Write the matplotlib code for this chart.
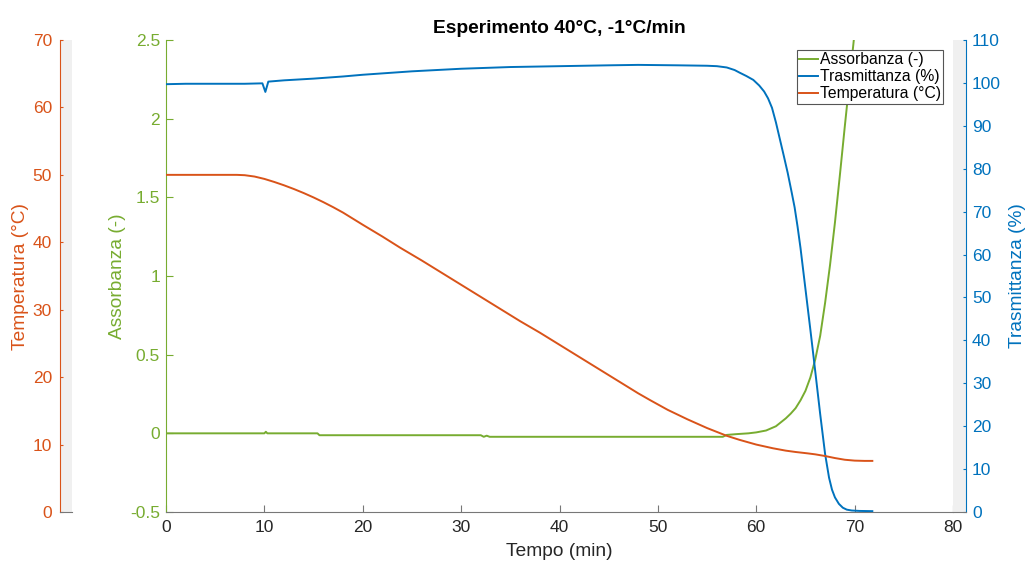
import numpy as np
import matplotlib
matplotlib.use("Agg")
import matplotlib.pyplot as plt

plt.rcParams['font.family'] = ['Liberation Sans', 'DejaVu Sans']

# colori stile MATLAB
VERDE = '#77AC30'
BLU = '#0072BD'
ARANCIO = '#D95319'
GRIGIO = '#262626'
STRISCIA = '#F0F0F0'

# Trasmittanza (%) nel tempo (min)
t_tras = [0, 2, 5, 8, 9.8, 10.1, 10.4, 12, 15, 18, 20, 25, 30, 35, 40, 45, 48,
          52, 55, 56, 57, 57.8, 58.3, 59.0, 59.7, 60.3, 60.8, 61.2, 61.6, 62.0,
          62.4, 62.8, 63.2, 63.6, 63.9, 64.2, 64.5, 65.0, 65.5, 65.9, 66.5,
          67.0, 67.4, 67.7, 68.0, 68.4, 68.8, 69.2, 69.7, 70.5, 71.8]
trasmittanza = [99.7, 99.8, 99.8, 99.8, 99.9, 97.9, 100.3, 100.6, 101.0, 101.5,
                101.9, 102.7, 103.3, 103.7, 103.9, 104.1, 104.2, 104.1, 104.0,
                103.9, 103.6, 103.0, 102.4, 101.6, 100.7, 99.4, 98.0, 96.4, 94.2,
                90.8, 86.9, 83.0, 79.0, 74.5, 71.0, 66.5, 61.5, 52.0, 42.5, 34.7,
                22.8, 13.5, 8.0, 5.2, 3.4, 1.9, 1.0, 0.55, 0.35, 0.25, 0.2]

# Assorbanza (-) nel tempo (min)
t_ass = [0, 10.0, 10.15, 10.3, 15.4, 15.6, 32.0, 32.3, 32.6, 32.9, 56.6, 57.0,
         58.0, 59.2, 60.0, 61.0, 62.0, 63.0, 63.5, 64.0, 64.5, 65.0, 65.5, 66.0,
         66.5, 67.0, 67.5, 68.0, 68.5, 69.0, 69.5, 70.0]
assorbanza = [0.0, 0.0, 0.01, 0.0, 0.0, -0.012, -0.012, -0.022, -0.015, -0.022,
              -0.022, -0.01, -0.005, 0.0, 0.006, 0.018, 0.045, 0.095, 0.125,
              0.16, 0.21, 0.27, 0.355, 0.47, 0.62, 0.83, 1.07, 1.34, 1.64, 1.95,
              2.25, 2.55]

# Temperatura (°C) nel tempo (min)
t_temp = [0, 7.2, 8, 9, 10, 11, 12, 13, 14, 15, 16, 17, 18, 20, 22, 23.8, 26,
          28, 30, 32, 34, 36, 38, 40, 42, 44, 46, 48, 49.2, 51, 53, 55, 57, 58.3,
          60, 61.7, 63, 64, 65.2, 66, 67, 68, 69, 70, 71, 71.8]
temperatura = [50.0, 50.0, 49.95, 49.75, 49.4, 48.95, 48.45, 47.9, 47.3, 46.65,
               45.95, 45.2, 44.4, 42.6, 40.85, 39.2, 37.3, 35.5, 33.7, 31.9,
               30.1, 28.3, 26.6, 24.8, 23.0, 21.2, 19.4, 17.6, 16.6, 15.15,
               13.75, 12.45, 11.3, 10.7, 10.0, 9.45, 9.1, 8.9, 8.7, 8.55, 8.3,
               8.0, 7.75, 7.62, 7.58, 7.58]

x_ticks = np.arange(0, 81, 10)
ass_ticks = np.arange(-0.5, 2.51, 0.5)
tras_ticks = np.arange(0, 111, 10)
temp_ticks = np.arange(0, 71, 10)

W, H = 1030, 566
fig = plt.figure(figsize=(W / 100, H / 100), dpi=100)

def px(x0, x1, y_top, y_bot):
    return [x0 / W, 1 - y_bot / H, (x1 - x0) / W, (y_bot - y_top) / H]

pos_main = px(166, 953, 40, 512)

# assi principale: assorbanza
ax = fig.add_axes(pos_main)
ax.set_xlim(0, 80)
ax.set_ylim(-0.5, 2.5)
ax.set_xticks(x_ticks)
ax.set_yticks(ass_ticks)
ax.set_yticklabels(['-0.5', '0', '0.5', '1', '1.5', '2', '2.5'])
for s in ['top', 'right']:
    ax.spines[s].set_visible(False)
ax.spines['left'].set_color(VERDE)
ax.spines['bottom'].set_color('#777777')
ax.tick_params(axis='x', direction='in', length=5, width=0.8, color='#777777',
               labelcolor=GRIGIO, labelsize=12.5, pad=6)
ax.tick_params(axis='y', direction='in', length=5, width=0.8, color=VERDE,
               labelcolor=VERDE, labelsize=12.5, pad=4.3)
ax.set_xlabel('Tempo (min)', fontsize=13.8, color=GRIGIO, va='center')
ax.xaxis.set_label_coords(559.5 / W, 1 - 552 / H, transform=fig.transFigure)
ax.set_ylabel('Assorbanza (-)', fontsize=13.8, color=VERDE, va='center')
ax.yaxis.set_label_coords(118 / W, 1 - 276 / H, transform=fig.transFigure)
ax.set_title('Esperimento 40°C, -1°C/min', fontsize=13.8, fontweight='bold',
             color='black', pad=5)

# striscia asse temperatura a sinistra
ax_ts = fig.add_axes(px(60, 72, 40, 512))
ax_ts.set_facecolor(STRISCIA)
ax_ts.set_ylim(0, 70)
ax_ts.set_yticks(temp_ticks)
ax_ts.set_xticks([])
for s in ['top', 'right']:
    ax_ts.spines[s].set_visible(False)
ax_ts.spines['left'].set_color(ARANCIO)
ax_ts.spines['bottom'].set_color('#777777')
ax_ts.tick_params(axis='y', direction='in', length=2.4, width=0.8, color=ARANCIO,
                  labelcolor=ARANCIO, labelsize=12.5, pad=5.8)
ax_ts.set_ylabel('Temperatura (°C)', fontsize=13.8, color=ARANCIO, va='center')
ax_ts.yaxis.set_label_coords(21 / W, 1 - 276 / H, transform=fig.transFigure)

# striscia asse trasmittanza a destra
ax_bs = fig.add_axes(px(953, 966, 40, 512))
ax_bs.set_facecolor(STRISCIA)
ax_bs.set_ylim(0, 110)
ax_bs.set_yticks(tras_ticks)
ax_bs.set_xticks([])
ax_bs.yaxis.tick_right()
ax_bs.yaxis.set_label_position('right')
for s in ['top', 'left']:
    ax_bs.spines[s].set_visible(False)
ax_bs.spines['right'].set_color(BLU)
ax_bs.spines['bottom'].set_color('#777777')
ax_bs.tick_params(axis='y', direction='in', length=2.4, width=0.8, color=BLU,
                  labelcolor=BLU, labelsize=12.5, pad=4.3)
ax_bs.set_ylabel('Trasmittanza (%)', fontsize=13.8, color=BLU, va='center')
ax_bs.yaxis.set_label_coords(1018 / W, 1 - 276 / H, transform=fig.transFigure)

# assi trasparenti sovrapposti per le curve di trasmittanza e temperatura
ax_b = fig.add_axes(pos_main, sharex=ax)
ax_b.set_ylim(0, 110)
ax_b.axis('off')
ax_t = fig.add_axes(pos_main, sharex=ax)
ax_t.set_ylim(0, 70)
ax_t.axis('off')

l1, = ax.plot(t_ass, assorbanza, color=VERDE, lw=1.4, label='Assorbanza (-)')
l2, = ax_b.plot(t_tras, trasmittanza, color=BLU, lw=1.4, label='Trasmittanza (%)')
l3, = ax_t.plot(t_temp, temperatura, color=ARANCIO, lw=1.4, label='Temperatura (°C)')

leg = ax_t.legend(handles=[l1, l2, l3], loc='upper right', fontsize=11.3,
                  handlelength=1.2, handletextpad=0.1, borderpad=0.15,
                  labelspacing=0.12, borderaxespad=0.64, fancybox=False,
                  framealpha=1, edgecolor='#555555')
leg.get_frame().set_linewidth(0.8)

fig.savefig('out.png', dpi=100)
